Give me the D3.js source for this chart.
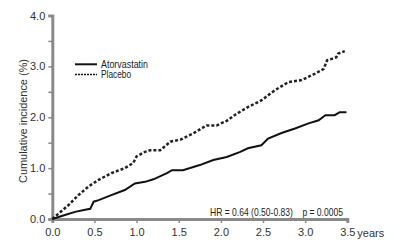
<!DOCTYPE html>
<html>
  <head>
    <meta charset="UTF-8" />
    <script src="https://cdnjs.cloudflare.com/ajax/libs/d3/7.8.5/d3.min.js"></script>
    <style>
      body { margin: 0; background: #fff; }
      svg { display: block; }
    </style>
  </head>
  <body>
    <div id="viz"><svg width="400" height="244"></svg></div>
    <script>
      // follow-up in years and cumulative incidence (%)
      const atorvaYears = [0, 0.15, 0.27, 0.39, 0.45, 0.49, 0.55, 0.7, 0.86, 0.98, 1.1, 1.2, 1.36, 1.42, 1.55, 1.75, 1.91, 2.07, 2.23, 2.32, 2.48, 2.56, 2.72, 2.88, 3.04, 3.16, 3.24, 3.35, 3.41, 3.49];
      const atorvaValues = [0, 0.08, 0.14, 0.18, 0.2, 0.34, 0.37, 0.47, 0.57, 0.7, 0.73, 0.78, 0.9, 0.96, 0.96, 1.06, 1.16, 1.22, 1.32, 1.39, 1.45, 1.58, 1.69, 1.78, 1.88, 1.94, 2.04, 2.04, 2.1, 2.1];
      const placeboYears = [0, 0.07, 0.19, 0.31, 0.43, 0.55, 0.7, 0.86, 0.96, 1.0, 1.1, 1.16, 1.28, 1.4, 1.52, 1.67, 1.83, 1.95, 2.07, 2.17, 2.32, 2.48, 2.64, 2.8, 2.96, 3.12, 3.22, 3.26, 3.32, 3.37, 3.39, 3.47];
      const placeboValues = [0, 0.1, 0.27, 0.47, 0.64, 0.77, 0.9, 1.0, 1.1, 1.23, 1.32, 1.35, 1.35, 1.52, 1.56, 1.68, 1.84, 1.84, 1.93, 2.05, 2.2, 2.33, 2.53, 2.69, 2.73, 2.86, 2.95, 3.12, 3.15, 3.18, 3.25, 3.3];
      const xTicks = [0, 0.5, 1, 1.5, 2, 2.5, 3, 3.5];
      const yTicks = [0, 0.5, 1, 1.5, 2, 2.5, 3, 3.5, 4];
      const legendNames = ["Atorvastatin", "Placebo"];
      const statText = "HR = 0.64 (0.50-0.83)    p = 0.0005";

      const svg = d3.select("svg");
      const sans = "'Liberation Sans', Arial, sans-serif";
      const axisGray = "#8a8a8a",
        labelGray = "#333";

      const xScale = d3.scaleLinear().domain([0, 3.5]).range([52.3, 347.3]),
        yScale = d3.scaleLinear().domain([0, 4]).range([219, 15.5]);

      // x axis
      const xAxis = d3
        .axisBottom(xScale)
        .tickValues(xTicks)
        .tickSize(4)
        .tickPadding(5)
        .tickFormat(d3.format(".1f"));
      const xG = svg
        .append("g")
        .attr("transform", "translate(0,219)")
        .call(xAxis);

      // y axis
      const yAxis = d3
        .axisLeft(yScale)
        .tickValues(yTicks)
        .tickSize(4)
        .tickPadding(3)
        .tickFormat(d => (d % 1 === 0 ? d3.format(".1f")(d) : ""));
      const yG = svg
        .append("g")
        .attr("transform", "translate(52.3,0)")
        .call(yAxis);

      [xG, yG].forEach(g => {
        g.select(".domain")
          .attr("stroke", axisGray)
          .attr("stroke-width", 3);
        g.selectAll(".tick line")
          .attr("stroke", axisGray)
          .attr("stroke-width", 1.5);
        g.selectAll(".tick text")
          .attr("fill", labelGray)
          .style("font-family", sans)
          .style("font-size", "11px");
      });

      svg
        .append("text")
        .attr("x", xScale(3.5) + 10)
        .attr("y", 237)
        .attr("fill", labelGray)
        .style("font-family", sans)
        .style("font-size", "11px")
        .text("years");

      // condensed labels are squeezed to the width seen in the figure
      svg
        .append("text")
        .attr("transform", "translate(27,121) rotate(-90)")
        .attr("text-anchor", "middle")
        .attr("fill", labelGray)
        .style("font-family", sans)
        .style("font-size", "11.5px")
        .attr("textLength", 124)
        .attr("lengthAdjust", "spacingAndGlyphs")
        .text("Cumulative incidence (%)");

      // curves
      const atorva = atorvaYears.map((t, i) => ({ t: t, v: atorvaValues[i] })),
        placebo = placeboYears.map((t, i) => ({ t: t, v: placeboValues[i] }));

      const line = d3
        .line()
        .x(d => xScale(d.t))
        .y(d => yScale(d.v));

      svg
        .append("path")
        .attr("d", line(placebo))
        .attr("fill", "none")
        .attr("stroke", "#222")
        .attr("stroke-width", 2.5)
        .attr("stroke-dasharray", "3,2");

      svg
        .append("path")
        .attr("d", line(atorva))
        .attr("fill", "none")
        .attr("stroke", "#111")
        .attr("stroke-width", 2);

      // legend
      const legendWidths = [47, 30];
      const legend = svg
        .selectAll("g.legend")
        .data(legendNames)
        .enter()
        .append("g")
        .attr("class", "legend")
        .attr("transform", (d, i) => `translate(75,${64.3 + i * 10.2})`);
      legend
        .append("line")
        .attr("x1", 0)
        .attr("x2", 22)
        .attr("stroke", "#111")
        .attr("stroke-width", (d, i) => (i ? 1.6 : 2))
        .attr("stroke-dasharray", (d, i) => (i ? "2,1" : null));
      legend
        .append("text")
        .attr("x", 26)
        .attr("y", 3.6)
        .attr("fill", "#222")
        .style("font-family", sans)
        .style("font-size", "10px")
        .attr("textLength", (d, i) => legendWidths[i])
        .attr("lengthAdjust", "spacingAndGlyphs")
        .text(d => d);

      svg
        .append("text")
        .attr("x", 210)
        .attr("y", 216)
        .attr("fill", "#222")
        .style("font-family", sans)
        .style("font-size", "10.5px")
        .attr("xml:space", "preserve")
        .attr("textLength", 133)
        .attr("lengthAdjust", "spacingAndGlyphs")
        .text(statText);
    </script>
  </body>
</html>
